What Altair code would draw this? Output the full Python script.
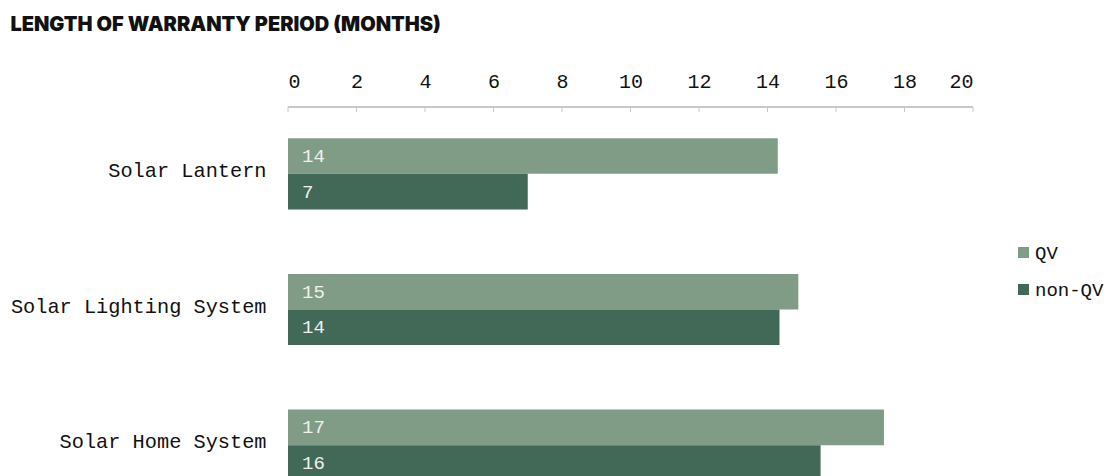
import altair as alt
import pandas as pd

categories = ["Solar Lantern", "Solar Lighting System", "Solar Home System"]
series = ["QV", "non-QV"]
qv_values = [14.3, 14.9, 17.4]
nonqv_values = [7.0, 14.35, 15.55]
tick_values = [0, 2, 4, 6, 8, 10, 12, 14, 16, 18, 20]
colors = ["#809c86", "#426858"]

rows = []
for c, q, n in zip(categories, qv_values, nonqv_values):
    rows.append({"category": c, "series": "QV", "value": q, "label": str(int(round(q)))})
    rows.append({"category": c, "series": "non-QV", "value": n, "label": str(int(round(n)))})
df = pd.DataFrame(rows)
ticks_df = pd.DataFrame({"t": tick_values})

MONO = "Liberation Mono"

x_scale = alt.Scale(domain=[0, 20], nice=False)
y_enc = alt.Y("category:N", sort=categories,
              scale=alt.Scale(paddingInner=0.476, paddingOuter=0.231, range=[0, 405]),
              axis=alt.Axis(title=None, domain=False, ticks=False, labelPadding=22,
                            labelLimit=400, labelOffset=-3,
                            labelFont=MONO, labelFontSize=20.3, labelColor="#111111"))
yoff_enc = alt.YOffset("series:N", sort=series, scale=alt.Scale(paddingInner=0, paddingOuter=0))

bars = alt.Chart(df).mark_bar(opacity=1).encode(
    x=alt.X("value:Q", scale=x_scale,
            axis=alt.Axis(orient="top", values=tick_values, title=None, domain=False,
                          ticks=False, grid=False, labelPadding=16, format="d",
                          labelFont=MONO, labelFontSize=20, labelColor="#111111")),
    y=y_enc,
    yOffset=yoff_enc,
    color=alt.Color("series:N", sort=series,
                    scale=alt.Scale(domain=series, range=colors),
                    legend=alt.Legend(title=None, orient="none", legendX=726, legendY=136,
                                      symbolType="square", symbolSize=121, padding=0,
                                      symbolStrokeWidth=0, labelFont=MONO,
                                      labelFontSize=19, labelColor="#111111",
                                      labelOffset=2, rowPadding=17)),
)

text = alt.Chart(df).mark_text(align="left", baseline="middle", dx=14,
                               font=MONO, fontSize=19, color="#eef2ef").encode(
    x=alt.datum(0, scale=x_scale),
    y=alt.Y("category:N", sort=categories),
    yOffset=alt.YOffset("series:N", sort=series),
    text="label:N",
)

tick_rules = alt.Chart(ticks_df).mark_rule(color="#c8c8c8", strokeWidth=1).encode(
    x=alt.X("t:Q", scale=x_scale),
    y=alt.value(0),
    y2=alt.value(5),
)

domain_rule = alt.Chart(ticks_df).mark_rule(color="#c8c8c8", strokeWidth=1).encode(
    x=alt.datum(0, scale=x_scale),
    x2=alt.datum(20),
    y=alt.value(0),
)

chart = alt.layer(bars, text, tick_rules, domain_rule).properties(
    width=685, height=361,
    autosize=alt.AutoSizeParams(type="none"),
    padding={"left": 280, "top": 99, "right": 131, "bottom": 8},
    title=alt.TitleParams("LENGTH OF WARRANTY PERIOD (MONTHS)", anchor="start",
                          font="Inter", fontSize=20, fontWeight=900, color="#111111",
                          offset=36),
).configure_view(stroke=None).configure_axis(grid=False)

chart.save("out.html", embed_options={"renderer": "svg", "actions": False})
